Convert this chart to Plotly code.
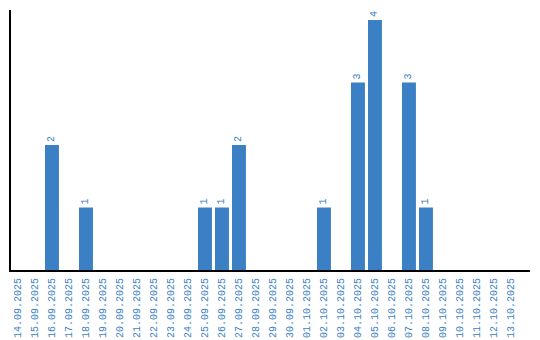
import plotly.graph_objects as go

dates = ["14.09.2025", "15.09.2025", "16.09.2025", "17.09.2025", "18.09.2025",
         "19.09.2025", "20.09.2025", "21.09.2025", "22.09.2025", "23.09.2025",
         "24.09.2025", "25.09.2025", "26.09.2025", "27.09.2025", "28.09.2025",
         "29.09.2025", "30.09.2025", "01.10.2025", "02.10.2025", "03.10.2025",
         "04.10.2025", "05.10.2025", "06.10.2025", "07.10.2025", "08.10.2025",
         "09.10.2025", "10.10.2025", "11.10.2025", "12.10.2025", "13.10.2025"]
counts = [0, 0, 2, 0, 1, 0, 0, 0, 0, 0, 0, 1, 1, 2, 0, 0, 0, 0, 1, 0,
          3, 4, 0, 3, 1, 0, 0, 0, 0, 0]

labels = [str(v) if v else "" for v in counts]

color = "#3b7fc4"
fig = go.Figure(go.Bar(
    x=dates, y=counts, marker_color=color, marker_line_width=0,
    text=labels, textposition="outside", textangle=-90,
    textfont=dict(family="Liberation Mono", size=10, color=color),
    cliponaxis=False,
))
fig.update_layout(
    width=540, height=340,
    margin=dict(l=11, r=10, t=10, b=70),
    plot_bgcolor="white", paper_bgcolor="white",
    bargap=0.18, showlegend=False,
)
fig.update_xaxes(
    type="category", range=[-0.41, 30.12], tickangle=-90, automargin=False,
    showline=True, linecolor="black", linewidth=2, showgrid=False,
    ticks="outside", ticklen=2, tickcolor="rgba(0,0,0,0)",
    tickfont=dict(family="Liberation Mono", size=10, color=color),
)
fig.update_yaxes(
    range=[0, 4.16], showline=True, linecolor="black", linewidth=2, automargin=False,
    showgrid=False, showticklabels=False, ticks="", zeroline=False,
)
fig.write_html("out.html")
